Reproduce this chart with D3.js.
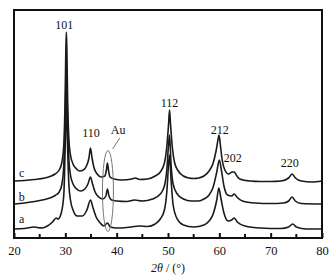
<!DOCTYPE html>
<html><head><meta charset="utf-8">
<script src="https://cdn.jsdelivr.net/npm/d3@7"></script>
<style>body{margin:0;background:#fff}svg{display:block}</style>
</head><body>
<svg id="chart" width="334" height="278"></svg>
<script>
const seriesNames = ["a","b","c"];
const twoTheta_c = [20,22,24,26,27,28,28.8,29.3,29.7,29.95,30.1,30.2,30.3,30.45,30.7,31,31.5,32,32.8,33.5,34.2,34.6,34.9,35.2,35.6,36.2,37,37.7,38,38.2,38.4,38.7,39.5,41,43,43.6,44.5,46,47.5,48.5,49.3,49.8,50.1,50.3,50.5,50.8,51.3,52,53,54,55,56,57,58,58.8,59.4,59.8,59.95,60.2,60.5,61,61.8,62.5,62.9,63.3,64,66,68,70,72,73.5,74.2,74.8,76,78,80];
const intensity_c = [57,57.5,58.5,60,61.5,64,68,75,93,138,188,206,188,138,98,83,74,70,67,68,73,80,90,80,70,64,61,62,68,75,68,61,59,58,59,60,58.5,59,62,66,75,93,113,128,113,93,75,67,62,60,59.5,60,62,67,75,88,100,103,93,80,69,64,66,66,63,59,57,56.5,56.5,57,60,64,60,57,56,57];
const twoTheta_b = [20,22,24,26,27,28,28.8,29.3,29.7,30,30.2,30.4,30.7,31,31.5,32,33,33.8,34.4,34.9,35.3,35.8,36.5,37.3,37.9,38.2,38.5,39,40,42,43.5,45,47,48.5,49.3,49.8,50.1,50.3,50.6,51,51.8,53,54.5,56,57,58,58.8,59.5,60,60.4,60.9,61.6,62.4,62.9,63.4,64.5,67,70,72.5,73.5,74.2,74.8,76,80];
const intensity_b = [34,35,36.5,38.5,40,42.5,46,53,73,128,168,128,78,63,54,50,47,49,54,61,54,46,41,39,42,49,42,38,37,36.5,38,37,39,44,52,70,93,103,73,54,44,39,37,37,39,43,51,66,78,68,52,43,42,44,41,37,35,34.5,35,37,41,37,34.5,34];
const twoTheta_a = [20,22,24,24.5,25.5,26.5,27.5,28.2,28.6,29.2,29.7,30,30.2,30.4,30.7,31,31.5,32.3,33.3,34.2,34.9,35.4,36,36.8,37.5,38.2,38.8,40,42,44.5,46,47.5,48.5,49.3,49.8,50.1,50.3,50.6,51,51.8,53,55,57,58,58.8,59.5,59.9,60.3,60.9,61.7,62.4,62.9,63.5,65,68,72,73.5,74.3,75,77,80];
const intensity_a = [9,9.5,11,10.5,10,12,16,20,19,25,43,98,143,98,53,38,28,22,22,28,38,30,21,15,12,15,11,10,10.5,12,11.5,14,19,28,48,73,83,58,33,19,13,11,13,17,24,38,50,40,25,17,18,20,16,12,10,9.5,11,14,11,9,9];
const xTicks = [20,30,40,50,60,70,80];
const xMinorTicks = [25,35,45,55,65,75];
const peakLabels = ["101","110","Au","112","212","202","220"];
const peakLabelPos = [[29.8,209.5],[35.0,101],[40.3,104],[50.3,131],[60.1,104],[62.6,76],[73.7,71]];
const curveLabels = ["c","b","a"];
const curveLabelPos = [[21.5,61],[21.5,37],[21.5,15]];

const svg = d3.select("#chart");
const m = {l:14, t:10, r:12, b:40};
const W = 334, H = 278;
const x = d3.scaleLinear().domain([20,80]).range([m.l, W-m.r]);
const y = d3.scaleLinear().domain([0,228]).range([H-m.b, m.t]);
const font = "'Liberation Serif','Times New Roman',serif";

const data = {
  a: d3.zip(twoTheta_a, intensity_a),
  b: d3.zip(twoTheta_b, intensity_b),
  c: d3.zip(twoTheta_c, intensity_c)
};
const line = d3.line().x(d=>x(d[0])).y(d=>y(d[1])).curve(d3.curveMonotoneX);
const g = svg.append("g");
g.append("defs").append("clipPath").attr("id","clip").append("rect")
  .attr("x",m.l).attr("y",m.t).attr("width",W-m.l-m.r).attr("height",H-m.t-m.b);
const plot = g.append("g").attr("clip-path","url(#clip)");
seriesNames.forEach(s=>{
  plot.append("path").datum(data[s]).attr("d",line)
    .attr("fill","none").attr("stroke","#1a1a1a").attr("stroke-width",1.6).attr("stroke-linejoin","round");
});

// Au ellipse and leader
g.append("ellipse").attr("cx",x(38.3)).attr("cy",y(47)).attr("rx",5.5).attr("ry",40.5)
  .attr("fill","none").attr("stroke","#777").attr("stroke-width",1);
g.append("line").attr("x1",x(39.2)).attr("y1",y(89)).attr("x2",x(40.6)).attr("y2",y(100))
  .attr("stroke","#777").attr("stroke-width",1);

// frame
g.append("rect").attr("x",m.l).attr("y",m.t).attr("width",W-m.l-m.r).attr("height",H-m.t-m.b)
  .attr("fill","none").attr("stroke","#111").attr("stroke-width",2);

// bottom axis, ticks inward
const ax = g.append("g").attr("transform",`translate(0,${H-m.b})`)
  .call(d3.axisBottom(x).tickValues(xTicks).tickSizeInner(-5).tickSizeOuter(0).tickPadding(8.5));
ax.select(".domain").remove();
ax.selectAll("line").attr("stroke","#111").attr("stroke-width",2);
ax.selectAll("text").attr("font-family",font).attr("font-size",12.5).attr("fill","#111");
g.append("g").attr("transform",`translate(0,${H-m.b})`)
  .selectAll("line").data(xMinorTicks).join("line")
  .attr("x1",d=>x(d)).attr("x2",d=>x(d)).attr("y1",0).attr("y2",-4)
  .attr("stroke","#111").attr("stroke-width",2);

// axis title
const t = g.append("text").attr("x",x(50)).attr("y",271.5).attr("text-anchor","middle")
  .attr("font-family",font).attr("font-size",12).attr("fill","#111");
t.append("tspan").attr("font-style","italic").text("2θ");
t.append("tspan").text(" / (°)");

// peak labels
g.selectAll(".pk").data(peakLabels).join("text").attr("class","pk")
  .attr("x",(d,i)=>x(peakLabelPos[i][0])).attr("y",(d,i)=>y(peakLabelPos[i][1]))
  .attr("text-anchor","middle").attr("font-family",font).attr("font-size",12).attr("fill","#111")
  .text(d=>d);
g.selectAll(".cl").data(curveLabels).join("text").attr("class","cl")
  .attr("x",(d,i)=>x(curveLabelPos[i][0])).attr("y",(d,i)=>y(curveLabelPos[i][1]))
  .attr("text-anchor","middle").attr("font-family",font).attr("font-size",12).attr("fill","#111")
  .text(d=>d);
</script>
</body></html>
